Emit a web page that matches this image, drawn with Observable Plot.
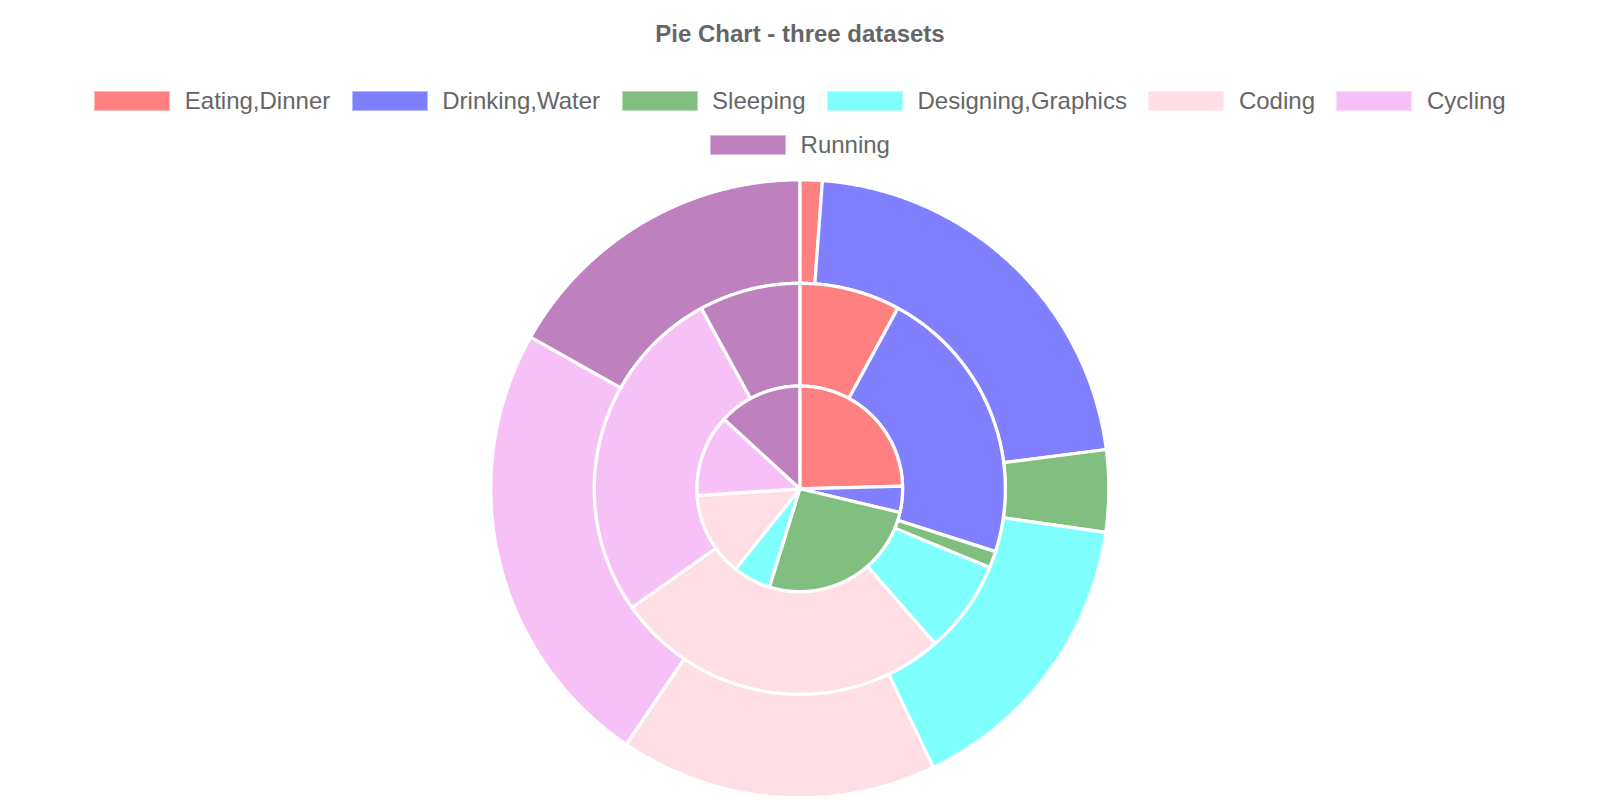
<!DOCTYPE html>
<html><head><meta charset="utf-8">
<script src="https://cdn.jsdelivr.net/npm/d3@7"></script>
<script src="https://cdn.jsdelivr.net/npm/@observablehq/plot@0.6"></script>
<style>
body{margin:0;background:#fff;font-family:"Liberation Sans",Arial,Helvetica,sans-serif;color:#666;}
#header{position:relative;width:1600px;height:170px;}
#title{position:absolute;left:0;width:1600px;top:22px;height:24px;line-height:24px;font-size:24px;font-weight:bold;text-align:center;}
.row{position:absolute;left:0;width:1600px;height:24px;display:flex;justify-content:center;align-items:center;gap:21.5px;}
.item{display:flex;align-items:center;font-size:24px;line-height:24px;white-space:nowrap;}
.box{width:76px;height:20px;margin-right:14.5px;box-sizing:border-box;border:1px solid rgba(255,255,255,0.45);}
#chart svg{display:block;}
</style></head>
<body>
<div id="header"><div id="title">Pie Chart - three datasets</div></div>
<div id="chart"></div>
<script>
const title = "Pie Chart - three datasets";
const labels = ["Eating,Dinner","Drinking,Water","Sleeping","Designing,Graphics","Coding","Cycling","Running"];
const colors = ["#ff8080","#8080ff","#80bf80","#80ffff","#ffdfe5","#f7c1f7","#bf80bf"];
// dataset 1 = outer ring, dataset 3 = inner pie
const dataset1 = [4.2, 78.5, 15.4, 56.3, 59.8, 85.2, 60.6];
const dataset2 = [28.5, 79.3, 4.7, 26.4, 95.8, 96.7, 28.6];
const dataset3 = [88.5, 14.8, 93.9, 21.5, 47.5, 46.4, 47.4];
const legendRows = [labels.slice(0, 6), labels.slice(6)];

// legend
const header = document.getElementById("header");
const rowTops = [89, 133.3];
legendRows.forEach((row, ri) => {
  const div = document.createElement("div");
  div.className = "row";
  div.style.top = rowTops[ri] + "px";
  row.forEach(lab => {
    const it = document.createElement("div");
    it.className = "item";
    const b = document.createElement("div");
    b.className = "box";
    b.style.background = colors[labels.indexOf(lab)];
    const t = document.createElement("span");
    t.textContent = lab;
    it.appendChild(b); it.appendChild(t);
    div.appendChild(it);
  });
  header.appendChild(div);
});

// rings
const R = 309, r2 = 205.5, r1 = 102.8;
const rings = [
  {values: dataset1, inner: r2, outer: R},
  {values: dataset2, inner: r1, outer: r2},
  {values: dataset3, inner: 0, outer: r1}
];
const pts = [];
rings.forEach((ring, ri) => {
  const arcs = d3.pie().sort(null).value(d => d)(ring.values);
  arcs.forEach((a, i) => {
    const key = ri + "-" + i;
    const span = a.endAngle - a.startAngle;
    const n = Math.max(2, Math.ceil(span / 0.004));
    const poly = [];
    for (let k = 0; k <= n; k++) {
      const t = a.startAngle + span * k / n;
      poly.push([ring.outer * Math.sin(t), ring.outer * Math.cos(t)]);
    }
    if (ring.inner > 0) {
      for (let k = n; k >= 0; k--) {
        const t = a.startAngle + span * k / n;
        poly.push([ring.inner * Math.sin(t), ring.inner * Math.cos(t)]);
      }
    } else {
      poly.push([0, 0]);
    }
    poly.push(poly[0]);
    poly.forEach(([x, y]) => pts.push({key, label: labels[i], x, y}));
  });
});

const cx = 799.3, cy = 318.3, H = 630;
const plot = Plot.plot({
  width: 1600,
  height: H,
  margin: 0,
  style: {background: "white", overflow: "visible"},
  x: {domain: [-cx, 1600 - cx], axis: null},
  y: {domain: [-(H - cy), cy], axis: null},
  color: {domain: labels, range: colors},
  marks: [
    Plot.line(pts, {x: "x", y: "y", z: "key", fill: "label", stroke: "white", strokeWidth: 3.2, strokeLinejoin: "round", curve: "linear"})
  ]
});
document.getElementById("chart").appendChild(plot);
</script>
</body></html>
